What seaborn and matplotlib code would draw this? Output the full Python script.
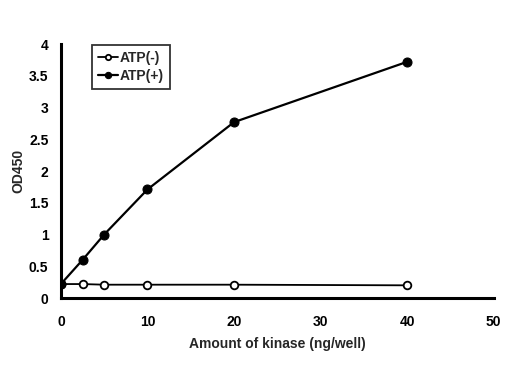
import matplotlib
matplotlib.use('Agg')
import matplotlib.pyplot as plt
import seaborn as sns
import pandas as pd

# Data
kinase = [0, 2.5, 5, 10, 20, 40]
atp_minus = [0.22, 0.22, 0.21, 0.21, 0.21, 0.20]
atp_plus = [0.22, 0.60, 1.00, 1.71, 2.77, 3.72]

df = pd.DataFrame({'kinase': kinase * 2,
                   'od': atp_minus + atp_plus,
                   'group': ['ATP(-)'] * len(kinase) + ['ATP(+)'] * len(kinase)})

sns.set_style('white')
plt.rcParams['font.family'] = ['Liberation Sans', 'DejaVu Sans']
plt.rcParams['font.weight'] = 'bold'

fig = plt.figure(figsize=(5.16, 3.73), dpi=100)
ax = fig.add_axes([0.118, 0.201, 0.839, 0.681])

# Open circles for ATP(-), filled for ATP(+)
sns.lineplot(data=df[df['group'] == 'ATP(-)'], x='kinase', y='od', ax=ax,
             color='black', marker='o', markersize=5.5, markerfacecolor='white',
             markeredgecolor='black', markeredgewidth=1.3, linewidth=1.3,
             label='ATP(-)', zorder=3)
sns.lineplot(data=df[df['group'] == 'ATP(+)'], x='kinase', y='od', ax=ax,
             color='black', marker='o', markersize=6.5, markerfacecolor='black',
             markeredgecolor='black', linewidth=1.6, label='ATP(+)', zorder=4)

ax.set_xlim(0, 50)
ax.set_ylim(0, 4)
ax.set_xticks([0, 10, 20, 30, 40, 50])
ax.set_yticks([0, 0.5, 1, 1.5, 2, 2.5, 3, 3.5, 4])
ax.set_yticklabels(['0', '0.5', '1', '1.5', '2', '2.5', '3', '3.5', '4'])

for s in ['top', 'right']:
    ax.spines[s].set_visible(False)
for s in ['left', 'bottom']:
    ax.spines[s].set_linewidth(2.2)
    ax.spines[s].set_color('black')

ax.tick_params(direction='in', length=3, width=2, labelsize=10, colors='black')
ax.tick_params(axis='x', pad=12)
ax.tick_params(axis='y', pad=9)
for lab in ax.get_xticklabels() + ax.get_yticklabels():
    lab.set_fontweight('bold')

ax.set_xlabel('Amount of kinase (ng/well)', fontsize=10, fontweight='bold', labelpad=6)
ax.set_ylabel('OD450', fontsize=10, fontweight='bold')
ax.yaxis.set_label_coords(-0.083, 0.5)

leg = ax.legend(loc='upper left', bbox_to_anchor=(0.072, 0.995), frameon=True,
                fancybox=False, fontsize=10, handlelength=1.5, handletextpad=0.1,
                borderpad=0.4, labelspacing=0.3, markerscale=0.7,
                borderaxespad=0)
leg.get_frame().set_edgecolor('black')
leg.get_frame().set_linewidth(1.3)
for t in leg.get_texts():
    t.set_fontweight('bold')

fig.savefig('out.png', dpi=100)
